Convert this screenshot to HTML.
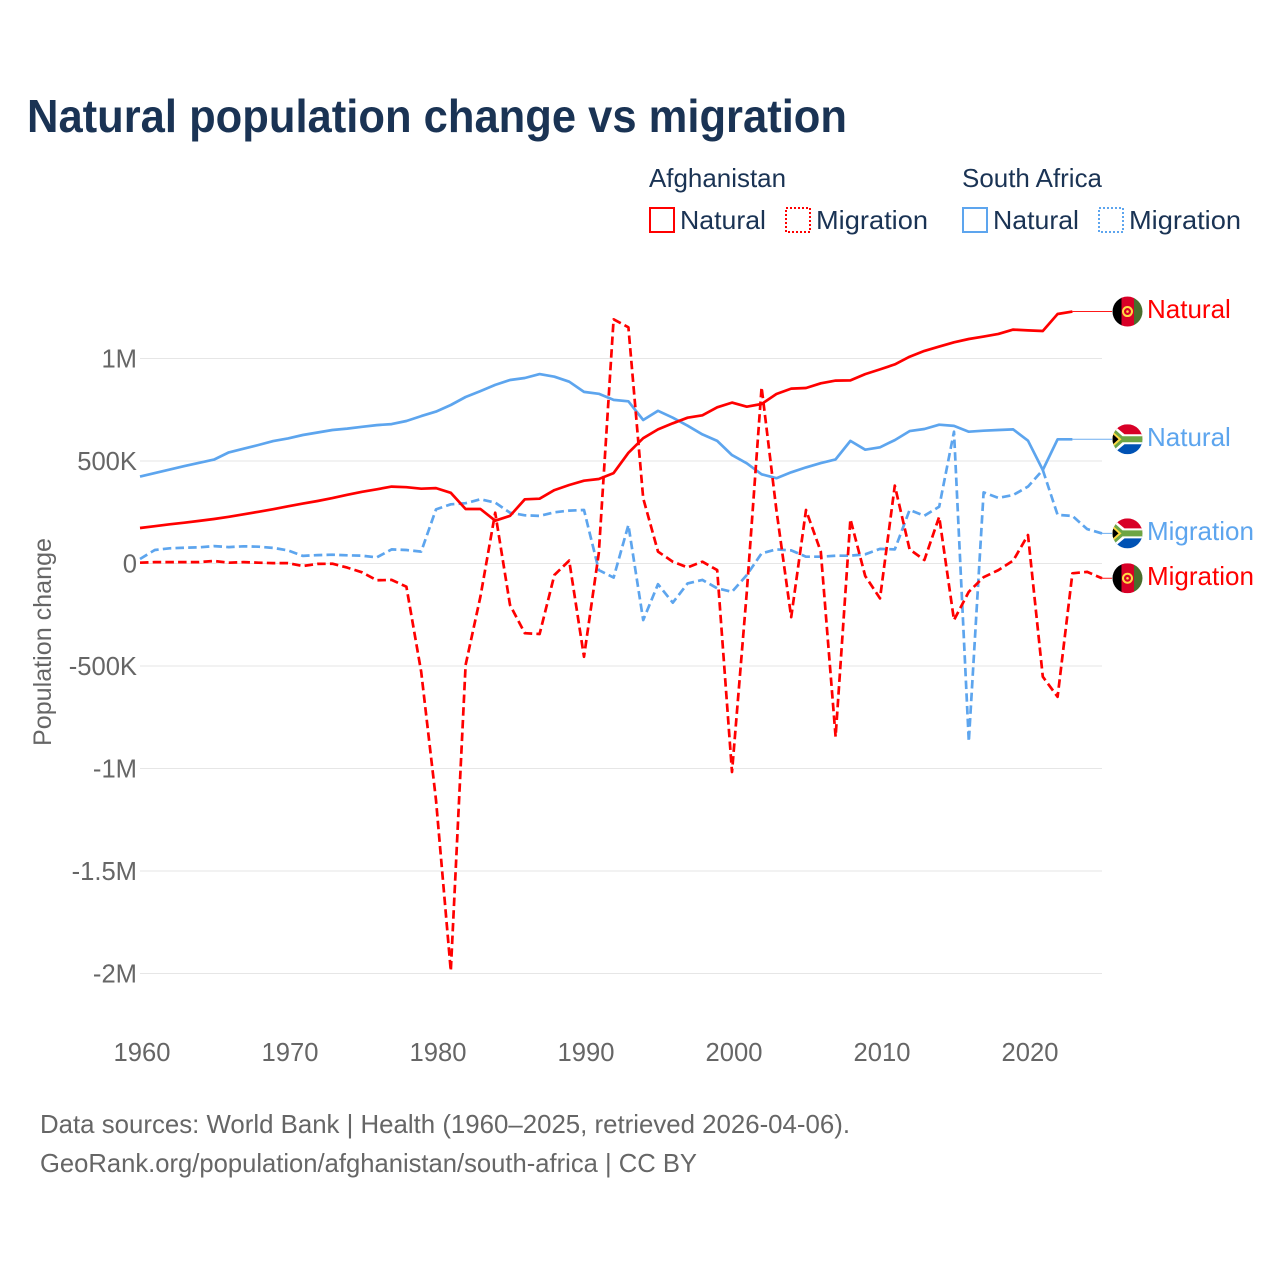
<!DOCTYPE html>
<html lang="en">
<head>
<meta charset="utf-8">
<title>Natural population change vs migration</title>
<style>
html,body{margin:0;padding:0;background:#fff;width:1280px;height:1280px;overflow:hidden}
svg{display:block}
text{font-family:"Liberation Sans",sans-serif}
</style>
</head>
<body>
<svg id="chart" xmlns="http://www.w3.org/2000/svg" width="1280" height="1280" viewBox="0 0 1280 1280">
  <defs>
    <clipPath id="flag-clip"><circle cx="0" cy="0" r="15"></circle></clipPath>
    <g id="flag-af" clip-path="url(#flag-clip)">
      <rect x="-15" y="-15" width="10" height="30" fill="#000"></rect>
      <rect x="-6" y="-15" width="13" height="30" fill="#d80027"></rect>
      <rect x="6.5" y="-15" width="9" height="30" fill="#496e2d"></rect>
      <circle cx="0" cy="0" r="4.5" fill="none" stroke="#ffda44" stroke-width="2"></circle>
      <circle cx="0" cy="0" r="1.3" fill="#ffda44"></circle>
    </g>
    <g id="flag-za" clip-path="url(#flag-clip)">
      <rect x="-15" y="-15" width="30" height="15" fill="#d80027"></rect>
      <rect x="-15" y="0" width="30" height="15" fill="#0052b4"></rect>
      <path d="M-15 -15 L-3 -5 L15 -5 L15 5 L-3 5 L-15 15Z" fill="#fff"></path>
      <path d="M-15 -12 L-5 -3 L15 -3 L15 3 L-5 3 L-15 12Z" fill="#6da544"></path>
      <path d="M-15 -8 L-6 0 L-15 8Z" fill="#ffda44"></path>
      <path d="M-15 -5.5 L-9 0 L-15 5.5Z" fill="#000"></path>
    </g>
  </defs>

  <text x="27" y="132" font-size="46" font-weight="700" fill="#1a3354" textLength="820" lengthAdjust="spacingAndGlyphs">Natural population change vs migration</text>

  <g font-size="26" fill="#1a3354">
    <text x="649" y="187" textLength="137" lengthAdjust="spacingAndGlyphs">Afghanistan</text>
    <text x="962" y="187" textLength="140" lengthAdjust="spacingAndGlyphs">South Africa</text>

    <g>
      <rect x="650" y="208" width="24" height="24" fill="#fff" stroke="#ff0000" stroke-width="2"></rect>
      <text x="680" y="229" textLength="86" lengthAdjust="spacingAndGlyphs">Natural</text>
    </g>
    <g>
      <rect x="786" y="208" width="24" height="24" fill="#fff" stroke="#ff0000" stroke-width="2" stroke-dasharray="2 2"></rect>
      <text x="816" y="229" textLength="112" lengthAdjust="spacingAndGlyphs">Migration</text>
    </g>
    <g>
      <rect x="963" y="208" width="24" height="24" fill="#fff" stroke="#5da5ee" stroke-width="2"></rect>
      <text x="993" y="229" textLength="86" lengthAdjust="spacingAndGlyphs">Natural</text>
    </g>
    <g>
      <rect x="1099" y="208" width="24" height="24" fill="#fff" stroke="#5da5ee" stroke-width="2" stroke-dasharray="2 2"></rect>
      <text x="1129" y="229" textLength="112" lengthAdjust="spacingAndGlyphs">Migration</text>
    </g>
  </g>

  <text transform="translate(51,746) rotate(-90)" font-size="25" fill="#666666" textLength="208" lengthAdjust="spacingAndGlyphs">Population change</text>

  <g id="grid"></g>
  <g id="y-ticks"></g>
  <g id="x-ticks"></g>
  <g id="series"></g>
  <g id="end-labels"></g>

  <g font-size="26" fill="#666666">
    <text x="40" y="1133" textLength="810" lengthAdjust="spacingAndGlyphs">Data sources: World Bank | Health (1960–2025, retrieved 2026-04-06).</text>
    <text x="40" y="1172" textLength="657" lengthAdjust="spacingAndGlyphs">GeoRank.org/population/afghanistan/south-africa | CC BY</text>
  </g>
</svg>

<script>
// Chart data (values in thousands of people)
const startYear = 1960;
const yTickValues = [1000, 500, 0, -500, -1000, -1500, -2000];
const yTickLabels = ["1M", "500K", "0", "-500K", "-1M", "-1.5M", "-2M"];
const xTickValues = [1960, 1970, 1980, 1990, 2000, 2010, 2020];
const xTickLabels = ["1960", "1970", "1980", "1990", "2000", "2010", "2020"];

const afghanistanNatural = [173,182,191,199,208,217,228,240,252,265,279,292,305,319,335,350,362,375,372,365,368,345,266,266,209,232,313,316,358,383,404,412,441,540,611,654,684,711,723,762,785,765,778,827,853,856,879,892,893,924,947,971,1009,1037,1058,1079,1095,1107,1120,1141,1137,1134,1217,1229];
const southAfricaNatural = [424,441,458,475,491,507,542,560,578,597,610,627,639,651,658,667,675,680,695,719,741,773,812,841,871,895,905,924,911,887,837,828,798,791,700,745,711,672,630,598,529,489,435,416,445,469,490,508,598,555,567,602,646,656,677,671,643,648,651,654,599,456,606,606];
const afghanistanMigration = [4,7,7,7,7,12,4,7,4,2,2,-12,-2,-1,-20,-43,-82,-80,-113,-529,-1154,-1988,-495,-162,248,-202,-340,-344,-56,14,-455,51,1191,1152,318,58,9,-19,9,-32,-1017,-139,860,261,-262,261,58,-845,216,-61,-170,380,69,17,228,-276,-138,-67,-32,14,139,-552,-650,-48,-41,-72];
const southAfricaMigration = [22,66,74,77,79,85,80,84,82,76,64,37,41,43,40,38,30,69,66,58,264,289,294,313,297,248,235,232,250,258,261,-32,-69,188,-276,-101,-191,-97,-80,-121,-138,-56,50,69,64,33,33,38,38,45,71,69,261,233,277,643,-869,347,320,334,375,456,237,232,168,147];

const NS = "http://www.w3.org/2000/svg";
const RED = "#ff0000";
const BLUE = "#5da5ee";

function xScale(year) { return 140 + (year - 1960) * 14.8; }
function yScale(value) { return 563.5 - value * 0.205; }
function make(tag, attrs, parent) {
  const el = document.createElementNS(NS, tag);
  for (const k in attrs) el.setAttribute(k, attrs[k]);
  parent.appendChild(el);
  return el;
}

const grid = document.getElementById("grid");
const yTicks = document.getElementById("y-ticks");
yTickValues.forEach(function (v, i) {
  const line = make("line", { x1: 140, x2: 1102, y1: yScale(v), y2: yScale(v), stroke: "#e6e6e6", "stroke-width": 1 }, grid);
  
  
  const t = make("text", { x: 137, y: yScale(v) + 9, "text-anchor": "end", "font-size": 25.6, fill: "#666666" }, yTicks);
  
  
  t.textContent = yTickLabels[i];
});

const xTicks = document.getElementById("x-ticks");
xTickValues.forEach(function (v, i) {
  const t = make("text", { x: xScale(v) + 2, y: 1061, "text-anchor": "middle", "font-size": 25.6, fill: "#666666" }, xTicks);
  
  
  t.textContent = xTickLabels[i];
});

const seriesGroup = document.getElementById("series");
const endLabels = document.getElementById("end-labels");

function drawSeries(values, color, dashed, name) {
  const pts = values.map(function (v, i) { return xScale(startYear + i).toFixed(1) + "," + yScale(v).toFixed(1); });
  const attrs = { points: pts.join(" "), fill: "none", stroke: color, "stroke-width": 2.7, "stroke-linejoin": "round" };
  if (dashed) attrs["stroke-dasharray"] = "8.5 4.2";
  const line = make("polyline", attrs, seriesGroup);
  
  
}

function drawEnd(values, color, label, flagId, name) {
  const lastIndex = values.length - 1;
  const ex = xScale(startYear + lastIndex);
  const ey = yScale(values[lastIndex]);
  const conn = make("line", { x1: ex, x2: 1112, y1: ey, y2: ey, stroke: color, "stroke-width": 1, "stroke-opacity": 0.9 }, endLabels);
  
  
  const flag = make("use", { href: flagId, transform: "translate(1127.5," + ey + ")" }, endLabels);
  
  
  const t = make("text", { x: 1147, y: ey + 6.5, "font-size": 26, fill: color }, endLabels);
  
  
  t.textContent = label;
}

drawSeries(southAfricaNatural, BLUE, false, "south-africa-natural-line");
drawSeries(southAfricaMigration, BLUE, true, "south-africa-migration-line");
drawSeries(afghanistanNatural, RED, false, "afghanistan-natural-line");
drawSeries(afghanistanMigration, RED, true, "afghanistan-migration-line");

drawEnd(afghanistanNatural, RED, "Natural", "#flag-af", "afghanistan-natural");
drawEnd(southAfricaNatural, BLUE, "Natural", "#flag-za", "south-africa-natural");
drawEnd(southAfricaMigration, BLUE, "Migration", "#flag-za", "south-africa-migration");
drawEnd(afghanistanMigration, RED, "Migration", "#flag-af", "afghanistan-migration");
</script>
</body>
</html>
